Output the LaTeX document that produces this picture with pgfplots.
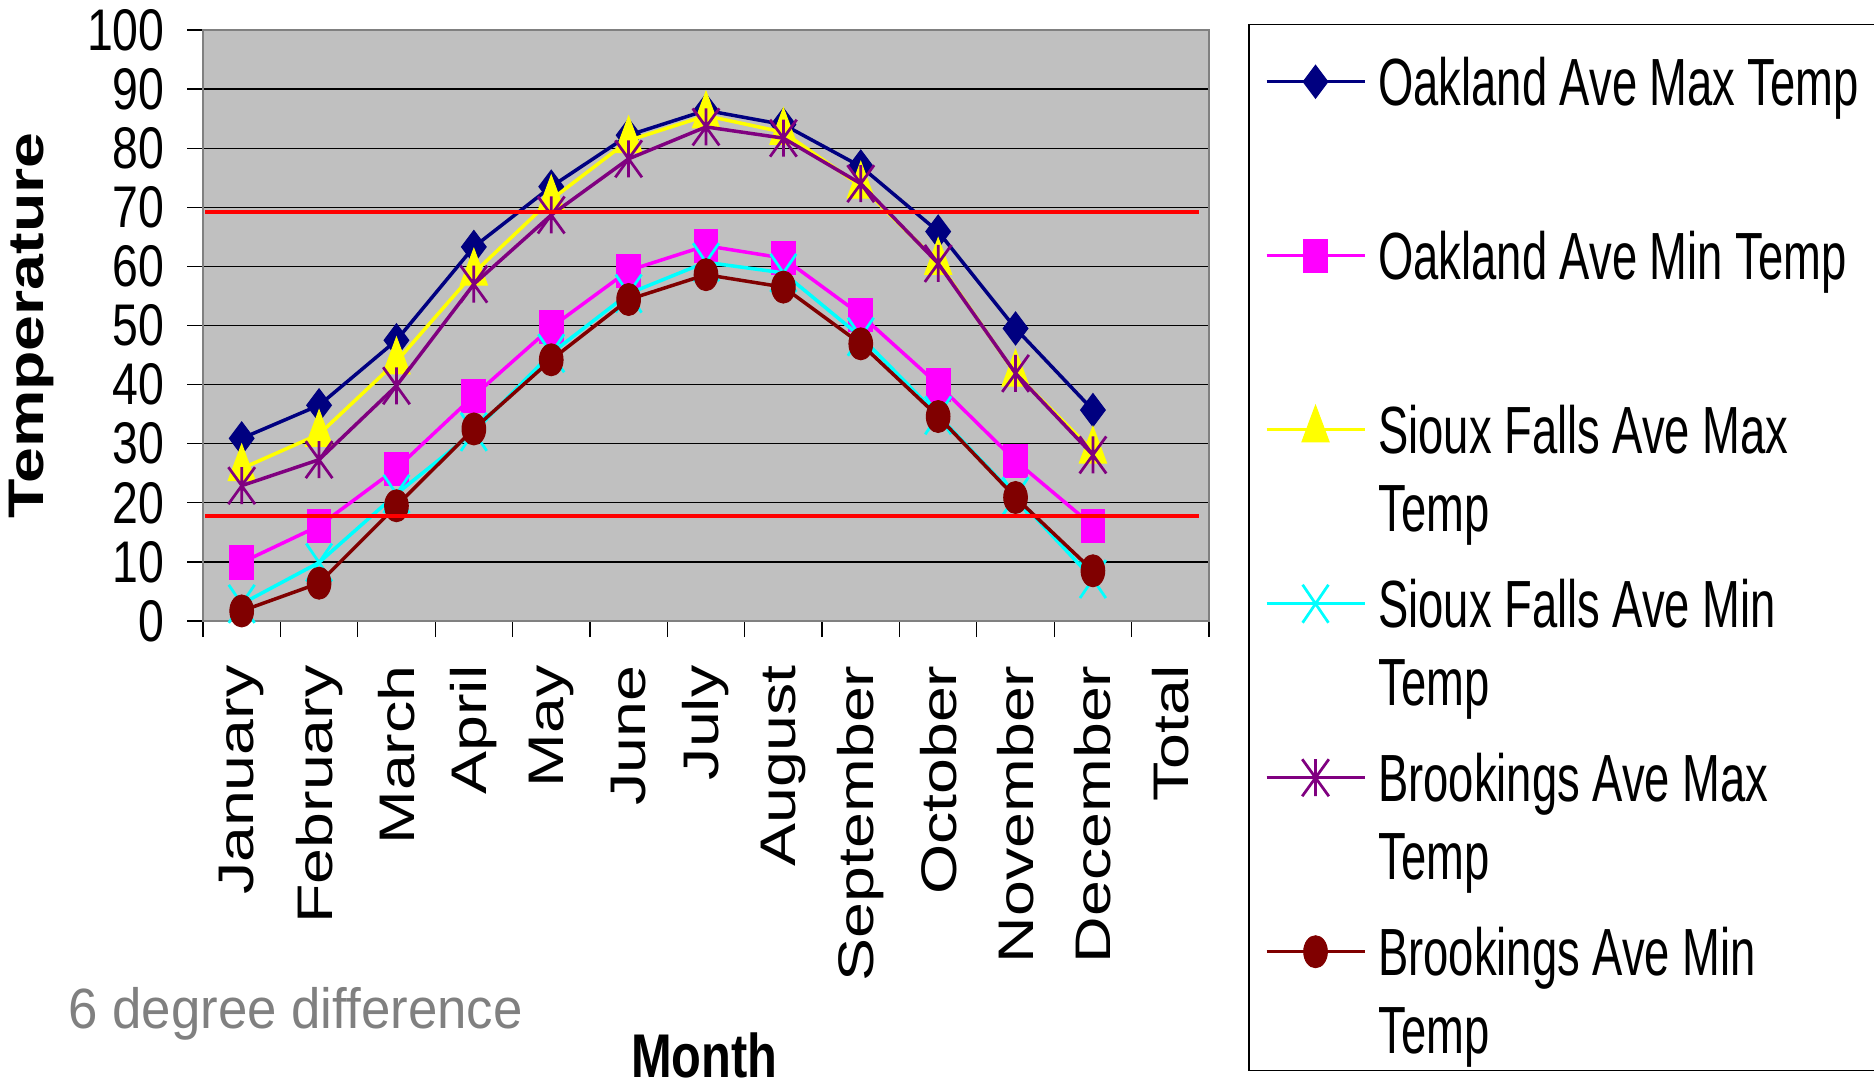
\documentclass[border=0pt]{standalone}
\usepackage{pgfplots}
\pgfplotsset{compat=1.18}
\usepackage{fontspec}
\setmainfont{Liberation Sans}
\newfontfamily\tickfont{Liberation Sans}[FakeStretch=0.79]
\newfontfamily\legfont{Liberation Sans}[FakeStretch=0.68]
\newfontfamily\rotfont{Liberation Sans}[FakeStretch=1.29]
\newfontfamily\notefont{Liberation Sans}[FakeStretch=0.93]
\newcommand\legendtext{\legfont\fontsize{26.7}{31.2}\selectfont}
\newcommand\notetext{\notefont\fontsize{22.7}{26}\selectfont}
% word spacing inside the left-aligned legend cells
\newcommand\lsp{\spaceskip=5pt\relax}

\definecolor{navyline}{HTML}{000080}
\definecolor{magline}{HTML}{FF00FF}
\definecolor{yelline}{HTML}{FFFF00}
\definecolor{cyanline}{HTML}{00FFFF}
\definecolor{purpline}{HTML}{800080}
\definecolor{maroonline}{HTML}{800000}
\definecolor{plotbg}{HTML}{C0C0C0}
\definecolor{framegray}{HTML}{808080}

% narrow X and X-with-bar markers
\pgfdeclareplotmark{tallx}{%
  \pgfpathmoveto{\pgfqpoint{-.68\pgfplotmarksize}{-\pgfplotmarksize}}%
  \pgfpathlineto{\pgfqpoint{.68\pgfplotmarksize}{\pgfplotmarksize}}%
  \pgfpathmoveto{\pgfqpoint{-.68\pgfplotmarksize}{\pgfplotmarksize}}%
  \pgfpathlineto{\pgfqpoint{.68\pgfplotmarksize}{-\pgfplotmarksize}}%
  \pgfusepathqstroke}
\pgfdeclareplotmark{xstar}{%
  \pgfpathmoveto{\pgfqpoint{-.72\pgfplotmarksize}{-\pgfplotmarksize}}%
  \pgfpathlineto{\pgfqpoint{.72\pgfplotmarksize}{\pgfplotmarksize}}%
  \pgfpathmoveto{\pgfqpoint{-.72\pgfplotmarksize}{\pgfplotmarksize}}%
  \pgfpathlineto{\pgfqpoint{.72\pgfplotmarksize}{-\pgfplotmarksize}}%
  \pgfpathmoveto{\pgfqpoint{0pt}{-\pgfplotmarksize}}%
  \pgfpathlineto{\pgfqpoint{0pt}{\pgfplotmarksize}}%
  \pgfusepathqstroke}

\begin{document}
\begin{tikzpicture}
\begin{axis}[
  at={(81.2pt,186.4pt)}, anchor=south west,
  scale only axis, width=402.4pt, height=236.4pt,
  xmin=-0.5, xmax=12.5, ymin=0, ymax=100,
  clip mode=individual,
  axis background/.style={fill=plotbg},
  axis line style={draw=framegray, line width=1pt},
  tick align=outside,
  major tick length=6.4pt,
  tick style={black, line width=0.5pt},
  xtick pos=left, ytick pos=left,
  xtick={-0.5,0.5,...,12.5},
  xticklabels={},
  extra x ticks={0,1,...,12},
  extra x tick labels={January,February,March,April,May,June,July,August,September,October,November,December,Total},
  extra x tick style={major tick length=0pt, grid=none,
    tick label style={font=\rotfont\fontsize{20}{24}\selectfont,
      yshift=-17.6pt, rotate=90, anchor=east, inner sep=0pt}},
  ytick={0,10,...,100},
  ymajorgrids=true,
  grid style={black, line width=0.5pt},
  /pgf/number format/assume math mode=true,
  yticklabel style={font=\tickfont\fontsize{23.5}{28}\selectfont,
    anchor=east, inner sep=0pt, xshift=-8.8pt},
  ylabel={Temperature},
  ylabel style={font=\rotfont\bfseries\fontsize{20}{24}\selectfont,
    at={(rel axis cs:-0.170,0.5)}, anchor=center},
  xlabel={Month},
  xlabel style={font=\tickfont\bfseries\fontsize{24.7}{28}\selectfont,
    at={(rel axis cs:0.4985,-0.772)}, anchor=base},
  legend style={
    at={(1.0388,1.0102)}, anchor=north west,
    draw=black, line width=0.6pt, fill=white,
    inner xsep=6.4pt, inner ysep=6pt,
    row sep=11.2pt, column sep=4.8pt,
    font=\legendtext,
    cells={anchor=base west},
    nodes={inner sep=0pt, anchor=base west, text width=230pt, align=left,
      text height=26.4pt, text depth=32pt},
  },
  legend image code/.code={%
    \draw[mark repeat=2,mark phase=2]
      plot coordinates {(0pt,9.6pt) (19.6pt,9.6pt) (39.2pt,9.6pt)};},
]

\addplot[color=navyline, line width=1.4pt, mark=diamond*, mark size=6.6pt,
  mark options={solid, fill=navyline, line width=0.4pt}]
  coordinates {(0,30.9) (1,36.5) (2,47.5) (3,63.3) (4,73.5) (5,82.2)
               (6,86.4) (7,84.0) (8,76.9) (9,65.9) (10,49.5) (11,35.7)};
\addlegendentry{\lsp Oakland Ave Max Temp}

\addplot[color=magline, line width=1.4pt, mark=square*, mark size=6.6pt,
  mark options={solid, fill=magline, line width=0.4pt, xscale=0.72}]
  coordinates {(0,9.9) (1,16.1) (2,25.8) (3,38.1) (4,49.7) (5,59.3)
               (6,63.5) (7,61.4) (8,51.8) (9,40.0) (10,27.1) (11,16.1)};
\addlegendentry{\lsp Oakland Ave Min Temp}

\addplot[color=yelline, line width=1.4pt, mark=triangle*, mark size=6.3pt,
  mark options={solid, fill=yelline, line width=0.4pt, yscale=1.55}]
  coordinates {(0,25.8) (1,31.6) (2,43.9) (3,58.9) (4,71.3) (5,81.3)
               (6,85.5) (7,82.7) (8,73.6) (9,60.7) (10,41.8) (11,28.8)};
\addlegendentry{\lsp Sioux Falls Ave Max\\Temp}

\addplot[color=cyanline, line width=1.4pt, mark=tallx, mark size=7.6pt,
  mark options={solid, line width=1.1pt}]
  coordinates {(0,2.9) (1,9.9) (2,21.5) (3,32.0) (4,45.3) (5,55.4)
               (6,60.7) (7,58.9) (8,48.1) (9,34.8) (10,21.1) (11,7.1)};
\addlegendentry{\lsp Sioux Falls Ave Min\\Temp}

\addplot[color=purpline, line width=1.4pt, mark=xstar, mark size=7.4pt,
  mark options={solid, line width=1.1pt}]
  coordinates {(0,22.9) (1,27.3) (2,39.8) (3,57.0) (4,68.7) (5,78.2)
               (6,83.6) (7,81.7) (8,74.0) (9,60.5) (10,41.9) (11,28.1)};
\addlegendentry{\lsp Brookings Ave Max\\Temp}

\addplot[color=maroonline, line width=1.4pt, mark=*, mark size=6.4pt,
  mark options={solid, fill=maroonline, line width=0.4pt, xscale=0.74}]
  coordinates {(0,1.7) (1,6.4) (2,19.5) (3,32.5) (4,44.2) (5,54.4)
               (6,58.6) (7,56.5) (8,46.9) (9,34.6) (10,20.9) (11,8.5)};
\addlegendentry{\lsp Brookings Ave Min\\Temp}

% reference levels
\addplot[red, line width=1.5pt, forget plot] coordinates {(-0.47,69.2) (12.37,69.2)};
\addplot[red, line width=1.5pt, forget plot] coordinates {(-0.47,17.8) (12.37,17.8)};

\node[anchor=base west, font=\notetext, text=framegray, inner sep=0pt]
  at (rel axis cs:-0.134,-0.689) {6 degree difference};
\end{axis}
\pgfresetboundingbox
\useasboundingbox (0,0) rectangle (749.6pt,434.8pt);
\end{tikzpicture}
\end{document}
